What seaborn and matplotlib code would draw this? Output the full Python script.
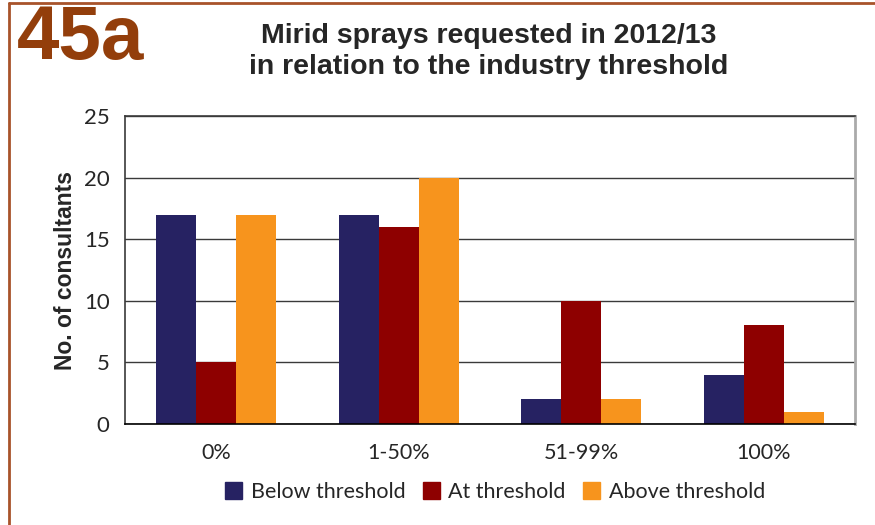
import pandas as pd
import numpy as np
import matplotlib.pyplot as plt
import seaborn as sns
from matplotlib.lines import Line2D
from matplotlib.ticker import FixedLocator

# Data
ranges = ["0%", "1-50%", "51-99%", "100%"]
below = [17, 17, 2, 4]
at = [5, 16, 10, 8]
above = [17, 20, 2, 1]
series = ["Below threshold", "At threshold", "Above threshold"]
colors = ["#262262", "#8E0000", "#F7941D"]

df = pd.DataFrame({
    "range": ranges * 3,
    "count": below + at + above,
    "threshold": [series[0]] * 4 + [series[1]] * 4 + [series[2]] * 4,
})

sns.set_style("white")
plt.rcParams['font.family'] = ['Lato', 'DejaVu Sans']

fig = plt.figure(figsize=(8.75, 5.25), dpi=100)
ax = fig.add_axes([125 / 875, 1 - 424 / 525, 730 / 875, 308 / 525])

sns.barplot(data=df, x="range", y="count", hue="threshold", order=ranges,
            hue_order=series, palette=colors, width=0.66, saturation=1,
            linewidth=0, ax=ax)
ax.get_legend().remove()

ax.set_ylim(0, 25)
ax.set_xlim(-0.5, 3.5)
ax.set_yticks([0, 5, 10, 15, 20, 25])
ax.yaxis.grid(True, color="#3a3a3a", linewidth=1)
ax.set_axisbelow(True)
ax.tick_params(axis="y", length=5, width=1, color="#3a3a3a", labelsize=16, pad=6)
ax.tick_params(axis="x", which="major", length=0, labelsize=15.5, pad=14)
ax.xaxis.set_minor_locator(FixedLocator([-0.5, 0.5, 1.5, 2.5, 3.5]))
ax.tick_params(axis="x", which="minor", length=6, width=1, color="#3a3a3a")

for side in ["left", "top"]:
    ax.spines[side].set_color("#3a3a3a")
    ax.spines[side].set_linewidth(1.2)
ax.spines["right"].set_color("#aaaaaa")
ax.spines["right"].set_linewidth(2)
ax.spines["bottom"].set_color("black")
ax.spines["bottom"].set_linewidth(1.2)

bold = ["Liberation Sans", "DejaVu Sans"]
ax.set_xlabel("")
ax.set_ylabel("No. of consultants", fontsize=16.5, fontweight="bold", family=bold, labelpad=5)

# title and chart number
fig.text(489 / 875, 1 - 51 / 525, "Mirid sprays requested in 2012/13\nin relation to the industry threshold",
         ha="center", va="center", fontsize=20.5, fontweight="bold", family=bold, linespacing=1.25)
fig.text(17 / 875, 1 - 40 / 525, "45a", ha="left", va="center", fontsize=55,
         fontweight="bold", color="#933E0B", family=bold)

# legend below
handles = [plt.Rectangle((0, 0), 1, 1, color=c) for c in colors]
fig.legend(handles, series, loc="center", bbox_to_anchor=(495 / 875, 1 - 492 / 525),
           ncol=3, frameon=False, fontsize=15.5, handlelength=0.8, handleheight=0.8,
           handletextpad=0.4, columnspacing=0.8)

# page frame lines
fig.add_artist(Line2D([9 / 875, 9 / 875], [0, 1 - 2.5 / 525], color="#A8532A", linewidth=2))
fig.add_artist(Line2D([9 / 875, 1], [1 - 2.5 / 525, 1 - 2.5 / 525], color="#A8532A", linewidth=2))

fig.savefig("out.png", dpi=100)
